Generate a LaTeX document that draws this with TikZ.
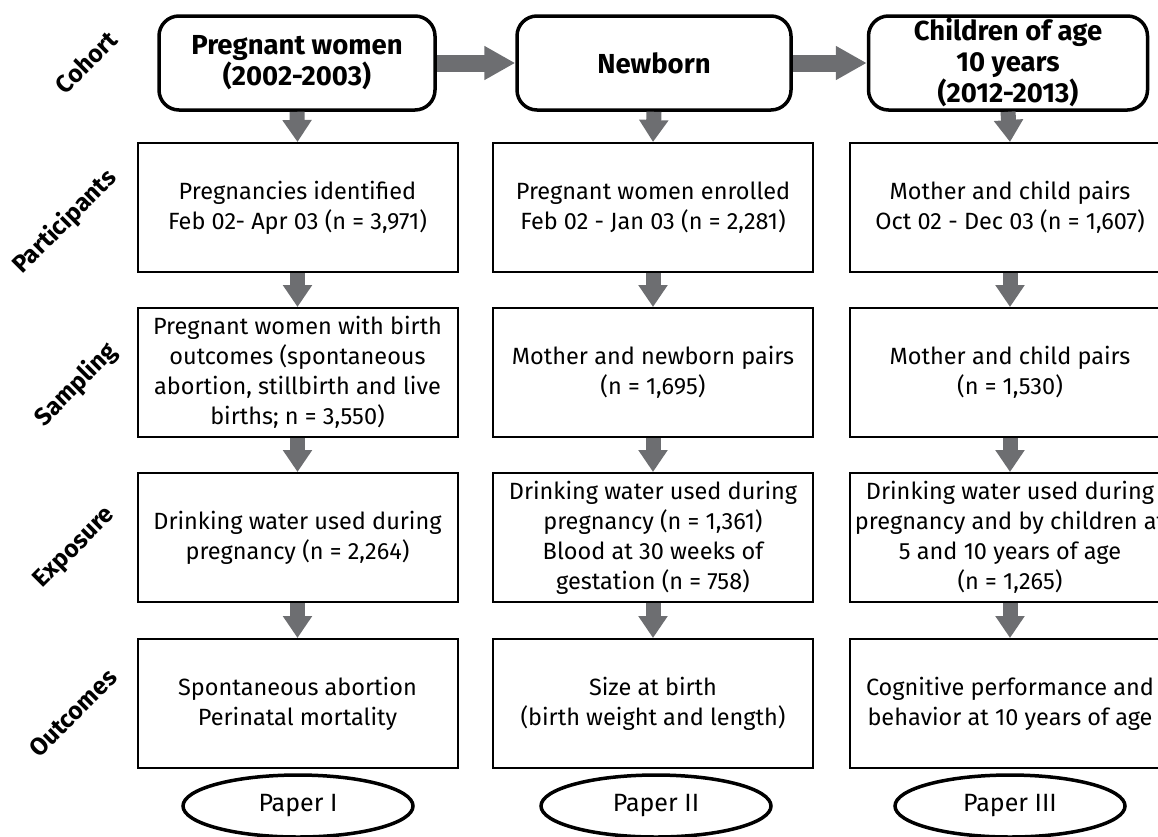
\documentclass[tikz,border=0pt]{standalone}
\usepackage{fontspec}
\setmainfont{Fira Sans}
\usetikzlibrary{arrows.meta,shapes.geometric}
\definecolor{arrgray}{RGB}{109,110,113}
\begin{document}
\begin{tikzpicture}[x=1pt,y=-1pt,
  cohort/.style={draw,line width=3.5pt,rounded corners=20pt,minimum height=94pt,align=center,inner sep=0pt,font=\fontsize{27.5}{31}\selectfont\bfseries},
  stage/.style={draw,line width=2pt,minimum width=320pt,minimum height=129pt,align=center,inner sep=0pt,font=\fontsize{23.5}{30}\selectfont},
  rowlabel/.style={rotate=45,font=\fontsize{24.5}{26}\selectfont\bfseries},
  paper/.style={draw,ellipse,line width=3.5pt,minimum width=230pt,minimum height=62pt,font=\fontsize{25}{28}\selectfont},
  bigarr/.style={arrgray,line width=17pt,-{Triangle[width=32pt,length=31pt]}},
  smallarr/.style={arrgray,line width=15pt,-{Triangle[width=28pt,length=22pt]}}]
\useasboundingbox (0,0) rectangle (1158,836);
\node [rowlabel] (lc) at (86,62) {Cohort};
\node [rowlabel] (lp) at (65,222) {Participants};
\node [rowlabel] (ls) at (76,385) {Sampling};
\node [rowlabel] (le) at (75,548) {Exposure};
\node [rowlabel] (lo) at (73,713) {Outcomes};
\node [cohort,minimum width=276pt] (c1) at (297,63) {Pregnant women\\(2002-2003)};
\node [cohort,minimum width=274pt] (c2) at (654,63) {Newborn};
\node [cohort,minimum width=279pt] (c3) at (1008,63) {Children of age\\10 years\\(2012-2013)};
\node [stage] (p1) at (297.5,207.5) {Pregnancies identified\\Feb 02- Apr 03 (n = 3,971)};
\node [stage] (p2) at (653,207.5) {Pregnant women enrolled\\Feb 02 - Jan 03 (n = 2,281)};
\node [stage] (p3) at (1010,207.5) {Mother and child pairs\\Oct 02 - Dec 03 (n = 1,607)};
\node [stage] (s1) at (297.5,372.5) {Pregnant women with birth\\outcomes (spontaneous\\abortion, stillbirth and live\\births; n = 3,550)};
\node [stage] (s2) at (653,372.5) {Mother and newborn pairs\\(n = 1,695)};
\node [stage] (s3) at (1010,372.5) {Mother and child pairs\\(n = 1,530)};
\node [stage] (e1) at (297.5,537.5) {Drinking water used during\\pregnancy (n = 2,264)};
\node [stage] (e2) at (653,537.5) {Drinking water used during\\pregnancy (n = 1,361)\\Blood at 30 weeks of\\gestation (n = 758)};
\node [stage] (e3) at (1010,537.5) {Drinking water used during\\pregnancy and by children at\\5 and 10 years of age\\(n = 1,265)};
\node [stage] (o1) at (297.5,703.5) {Spontaneous abortion\\Perinatal mortality};
\node [stage] (o2) at (653,703.5) {Size at birth\\(birth weight and length)};
\node [stage] (o3) at (1010,703.5) {Cognitive performance and\\behavior at 10 years of age};
\node [paper] (r1) at (298,806) {Paper I};
\node [paper] (r2) at (656,806) {Paper II};
\node [paper] (r3) at (1010,806) {Paper III};
\draw [bigarr] (c1) -- (c2);
\draw [bigarr] (c2) -- (c3);
\foreach \i in {1,2,3} {
  \draw [smallarr] (c\i.south) -- (p\i.north);
  \draw [smallarr] (p\i) -- (s\i);
  \draw [smallarr] (s\i) -- (e\i);
  \draw [smallarr] (e\i) -- (o\i);
}
\end{tikzpicture}
\end{document}
